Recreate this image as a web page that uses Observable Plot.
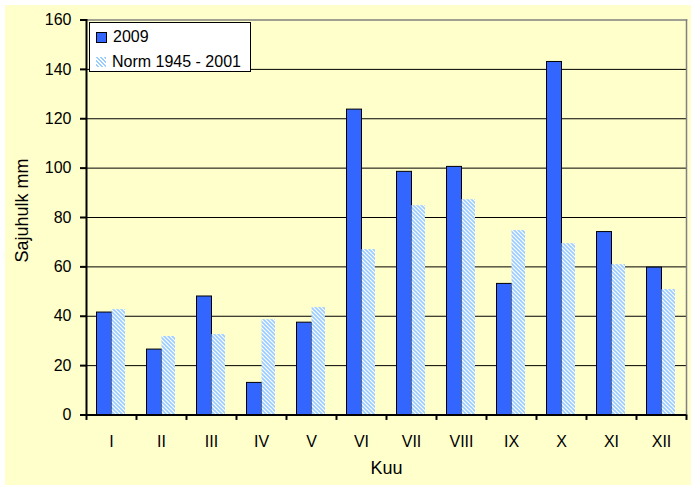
<!DOCTYPE html>
<html>
<head>
<meta charset="utf-8">
<script src="https://cdn.jsdelivr.net/npm/d3@7"></script>
<script src="https://cdn.jsdelivr.net/npm/@observablehq/plot@0.6"></script>
<style>
  html, body { margin: 0; padding: 0; background: #ffffff; }
  #page { position: relative; width: 696px; height: 490px; }
  #chart { position: absolute; left: 5px; top: 5px; width: 686px; height: 480px; background: #FFFFCC; }
  #legend { position: absolute; left: 89px; top: 22px; width: 160px; height: 48px; border: 1px solid #000; background: #fff;
            font-family: 'Liberation Sans', Arial, sans-serif; font-size: 16px; color: #000; }
  .item { position: absolute; left: 6px; display: flex; align-items: center; white-space: nowrap; }
  .sw { width: 9px; height: 9px; margin-right: 6px; }
  .sw.blue { background: #3366FF; border: 1px solid #000; }
  .sw.hatch { width: 10px; height: 10px; margin-left: 0px; margin-right: 6px;
     background: repeating-linear-gradient(45deg, #fff 0 1.4px, #99CCFF 1.4px 2.8px); }
</style>
</head>
<body>
<div id="page">
  <div id="chart"></div>
  <div id="legend"></div>
</div>
<script>
const months = ["I", "II", "III", "IV", "V", "VI", "VII", "VIII", "IX", "X", "XI", "XII"];
const rain2009 = [41.5, 26.5, 48, 13, 37.4, 123.7, 98.5, 100.5, 53.1, 143, 74.1, 59.7];
const rainNorm = [42.7, 31.8, 32.6, 38.6, 43.5, 67, 84.8, 87.2, 74.7, 69.4, 60.9, 50.8];
const seriesNames = ["2009", "Norm 1945 - 2001"];
const yTicks = [0, 20, 40, 60, 80, 100, 120, 140, 160];
const gridTicks = [20, 40, 60, 80, 100, 120, 140];
const xTitle = "Kuu";
const yTitle = "Sajuhulk mm";

const table2009 = months.map((m, i) => ({month: m, value: rain2009[i], series: seriesNames[0]}));
const tableNorm = months.map((m, i) => ({month: m, value: rainNorm[i], series: seriesNames[1]}));

const W = 686, H = 480, mL = 81, mR = 5, mT = 14.5, mB = 70.5;
const bw = (W - mL - mR) / months.length;

const hatchDefs = () => {
  const ns = "http://www.w3.org/2000/svg";
  const defs = document.createElementNS(ns, "defs");
  defs.innerHTML = `<pattern id="hatch" patternUnits="userSpaceOnUse" width="4" height="4">
      <rect width="4" height="4" fill="#ffffff"/>
      <path d="M-1,-1 L5,5 M-1,3 L1,5 M3,-1 L5,1" stroke="#99CCFF" stroke-width="1.6"/>
    </pattern>`;
  return defs;
};

const chart = Plot.plot({
  width: W, height: H,
  marginLeft: mL, marginRight: mR, marginTop: mT, marginBottom: mB,
  style: {background: "#FFFFCC", fontFamily: "'Liberation Sans', Arial, sans-serif", fontSize: "16px", color: "#000", overflow: "visible"},
  x: {domain: months, paddingInner: 0, paddingOuter: 0, label: null},
  y: {domain: [0, 160], label: null},
  marks: [
    hatchDefs,
    Plot.ruleY(gridTicks, {stroke: "#000", strokeWidth: 1}),
    Plot.frame({anchor: "top", stroke: "#808080", strokeWidth: 1.5}),
    Plot.frame({anchor: "right", stroke: "#808080", strokeWidth: 1.5}),
    Plot.barY(table2009, {x: "month", y: "value", fill: "#3366FF", stroke: "#000", strokeWidth: 1, insetLeft: 10.5, insetRight: 24.5}),
    Plot.barY(tableNorm, {x: "month", y: "value", fill: "url(#hatch)", insetLeft: 25.5, insetRight: 11}),
    Plot.ruleY([0], {stroke: "#000", strokeWidth: 2}),
    Plot.frame({anchor: "left", stroke: "#000", strokeWidth: 2}),
    Plot.ruleX(months, {x: d => d, y1: 0, y2: -2.2, dx: -bw / 2, stroke: "#000", strokeWidth: 2}),
    Plot.ruleX([months[months.length - 1]], {x: d => d, y1: 0, y2: -2.2, dx: bw / 2, stroke: "#000", strokeWidth: 2}),
    Plot.axisY(yTicks, {tickSize: 6, tickPadding: 9, strokeWidth: 2, fontSize: 16, label: null}),
    Plot.axisX({tickSize: 0, tickPadding: 21, fontSize: 16, label: null}),
    Plot.text([xTitle], {frameAnchor: "bottom", textAnchor: "middle", lineAnchor: "middle", dy: 53, fontSize: 18, fill: "#000"}),
    Plot.text([yTitle], {frameAnchor: "left", textAnchor: "middle", lineAnchor: "middle", rotate: -90, dx: -64.5, dy: -7, fontSize: 18, fill: "#000"})
  ]
});
document.getElementById("chart").appendChild(chart);

const legend = document.getElementById("legend");
seriesNames.forEach((name, i) => {
  const item = document.createElement("div");
  item.className = "item";
  item.style.top = (i === 0 ? 5 : 30) + "px";
  const sw = document.createElement("span");
  sw.className = "sw " + (i === 0 ? "blue" : "hatch");
  const t = document.createElement("span");
  t.textContent = name;
  item.appendChild(sw);
  item.appendChild(t);
  legend.appendChild(item);
});
</script>
</body>
</html>
